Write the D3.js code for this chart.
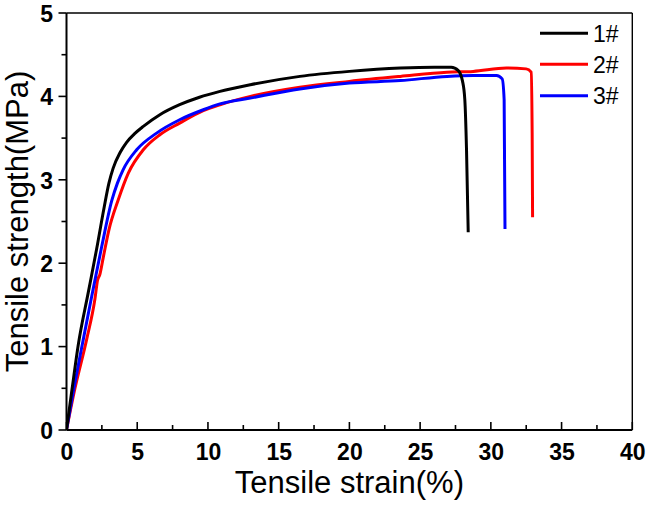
<!DOCTYPE html>
<html>
<head>
<meta charset="utf-8">
<script src="https://cdn.jsdelivr.net/npm/d3@7"></script>
<style>
  html, body { margin: 0; padding: 0; background: #fff; }
  svg { display: block; }
</style>
</head>
<body>
<svg id="chart" width="648" height="505"></svg>
<script>
// ---- data (strain %, stress MPa) ----
const seriesNames = ["1#", "2#", "3#"];
const seriesColors = ["#000000", "#ff0000", "#0000ff"];

const strain1 = [0, 0.4, 0.83, 1.54, 2.13, 2.65, 3.0, 3.3, 3.8, 4.25, 4.8, 5.43, 6.6, 8.0, 9.4, 10.85, 13.0, 16.5, 20.0, 23.6, 26.0, 27.2, 27.7, 28.0, 28.16, 28.28, 28.4];
const stress1 = [0, 0.5, 1.02, 1.65, 2.17, 2.66, 2.96, 3.14, 3.33, 3.45, 3.55, 3.64, 3.78, 3.90, 3.99, 4.06, 4.14, 4.24, 4.30, 4.34, 4.35, 4.35, 4.31, 4.18, 3.96, 3.36, 2.37];

const strain2 = [0, 0.6, 1.43, 2.01, 2.2, 2.35, 2.6, 3.0, 3.66, 4.37, 5.43, 6.6, 8.0, 9.67, 10.85, 13.0, 16.5, 20.0, 23.6, 26.9, 28.75, 31.1, 32.5, 32.85, 32.92, 32.95];
const stress2 = [0, 0.5, 1.09, 1.57, 1.80, 1.86, 2.07, 2.40, 2.76, 3.08, 3.36, 3.54, 3.68, 3.83, 3.90, 4.00, 4.11, 4.18, 4.24, 4.29, 4.30, 4.34, 4.33, 4.29, 3.56, 2.55];

const strain3 = [0, 0.5, 1.19, 1.78, 2.49, 3.2, 3.6, 4.0, 4.96, 6.37, 8.0, 9.67, 10.85, 13.0, 16.5, 20.0, 23.6, 26.9, 28.75, 30.4, 30.8, 30.94, 31.0];
const stress3 = [0, 0.48, 1.09, 1.6, 2.2, 2.75, 2.96, 3.12, 3.36, 3.56, 3.72, 3.84, 3.91, 3.98, 4.09, 4.16, 4.19, 4.24, 4.25, 4.25, 4.21, 3.96, 2.41];

const xTicks = [0, 5, 10, 15, 20, 25, 30, 35, 40];
const yTicks = [0, 1, 2, 3, 4, 5];
const xLabel = "Tensile strain(%)";
const yLabel = "Tensile strength(MPa)";

// ---- layout ----
const svg = d3.select("#chart");
const L = 66.5, R = 632.3, T = 13, B = 430;
const x = d3.scaleLinear().domain([0, 40]).range([L, R]);
const y = d3.scaleLinear().domain([0, 5]).range([B, T]);

const series = [
  strain1.map((s, i) => [s, stress1[i]]),
  strain2.map((s, i) => [s, stress2[i]]),
  strain3.map((s, i) => [s, stress3[i]])
];

const line = d3.line().x(d => x(d[0])).y(d => y(d[1])).curve(d3.curveMonotoneX);

svg.append("clipPath").attr("id", "clip").append("rect")
  .attr("x", L).attr("y", T).attr("width", R - L).attr("height", B - T);

const plot = svg.append("g").attr("clip-path", "url(#clip)");
[1, 2, 0].forEach(i => {
  plot.append("path")
    .datum(series[i])
    .attr("fill", "none")
    .attr("stroke", seriesColors[i])
    .attr("stroke-width", 3)
    .attr("stroke-linejoin", "round")
    .attr("d", line);
});

// frame: top and right
svg.append("line").attr("x1", L).attr("x2", R).attr("y1", T).attr("y2", T)
  .attr("stroke", "#000").attr("stroke-width", 1.4);
svg.append("line").attr("x1", R).attr("x2", R).attr("y1", T).attr("y2", B)
  .attr("stroke", "#000").attr("stroke-width", 1.4);

// bottom axis (ticks inward)
const xAxis = d3.axisBottom(x).tickValues(xTicks).tickSize(0).tickPadding(0).tickFormat(d3.format("d"));
const gx = svg.append("g").attr("transform", `translate(0,${B})`).call(xAxis);
gx.select(".domain").remove();
gx.selectAll(".tick line").remove();
gx.selectAll(".tick text")
  .attr("y", 30)
  .attr("dy", 0)
  .attr("font-family", "Liberation Sans, Arial, sans-serif")
  .attr("font-weight", "bold")
  .attr("font-size", 23)
  .attr("fill", "#000");
const xMinor = d3.range(0, 40.01, 2.5);
svg.append("g").selectAll("line").data(xMinor).join("line")
  .attr("x1", d => x(d)).attr("x2", d => x(d))
  .attr("y1", B).attr("y2", d => B - (d % 5 === 0 ? 8 : 5))
  .attr("stroke", "#000").attr("stroke-width", 1.6);
svg.append("line").attr("x1", L).attr("x2", R).attr("y1", B).attr("y2", B)
  .attr("stroke", "#000").attr("stroke-width", 2);

// left axis (ticks outward)
const yAxis = d3.axisLeft(y).tickValues(yTicks).tickSize(0).tickPadding(0).tickFormat(d3.format("d"));
const gy = svg.append("g").attr("transform", `translate(${L},0)`).call(yAxis);
gy.select(".domain").remove();
gy.selectAll(".tick line").remove();
gy.selectAll(".tick text")
  .attr("x", -13.5)
  .attr("dy", "0.36em")
  .attr("text-anchor", "end")
  .attr("font-family", "Liberation Sans, Arial, sans-serif")
  .attr("font-weight", "bold")
  .attr("font-size", 23)
  .attr("fill", "#000");
const yMinor = d3.range(0, 5.01, 0.5);
svg.append("g").selectAll("line").data(yMinor).join("line")
  .attr("x1", L).attr("x2", d => L - (Math.abs(d % 1) < 1e-9 ? 8 : 5))
  .attr("y1", d => y(d)).attr("y2", d => y(d))
  .attr("stroke", "#000").attr("stroke-width", 1.6);
svg.append("line").attr("x1", L).attr("x2", L).attr("y1", T).attr("y2", B)
  .attr("stroke", "#000").attr("stroke-width", 2);

// axis titles
svg.append("text")
  .attr("x", (L + R) / 2).attr("y", 493)
  .attr("text-anchor", "middle")
  .attr("font-family", "Liberation Sans, Arial, sans-serif")
  .attr("font-size", 31)
  .attr("fill", "#000")
  .text(xLabel);
svg.append("text")
  .attr("transform", `translate(28,${(T + B) / 2}) rotate(-90)`)
  .attr("text-anchor", "middle")
  .attr("font-family", "Liberation Sans, Arial, sans-serif")
  .attr("font-size", 31)
  .attr("fill", "#000")
  .text(yLabel);

// legend
const legendY = [33.3, 64.3, 95.7];
const lg = svg.append("g");
seriesNames.forEach((name, i) => {
  lg.append("line")
    .attr("x1", 540).attr("x2", 588)
    .attr("y1", legendY[i]).attr("y2", legendY[i])
    .attr("stroke", seriesColors[i]).attr("stroke-width", 3);
  lg.append("text")
    .attr("x", 593).attr("y", legendY[i] + 8.3)
    .attr("font-family", "Liberation Sans, Arial, sans-serif")
    .attr("font-size", 23)
    .attr("fill", "#000")
    .text(name);
});
</script>
</body>
</html>
